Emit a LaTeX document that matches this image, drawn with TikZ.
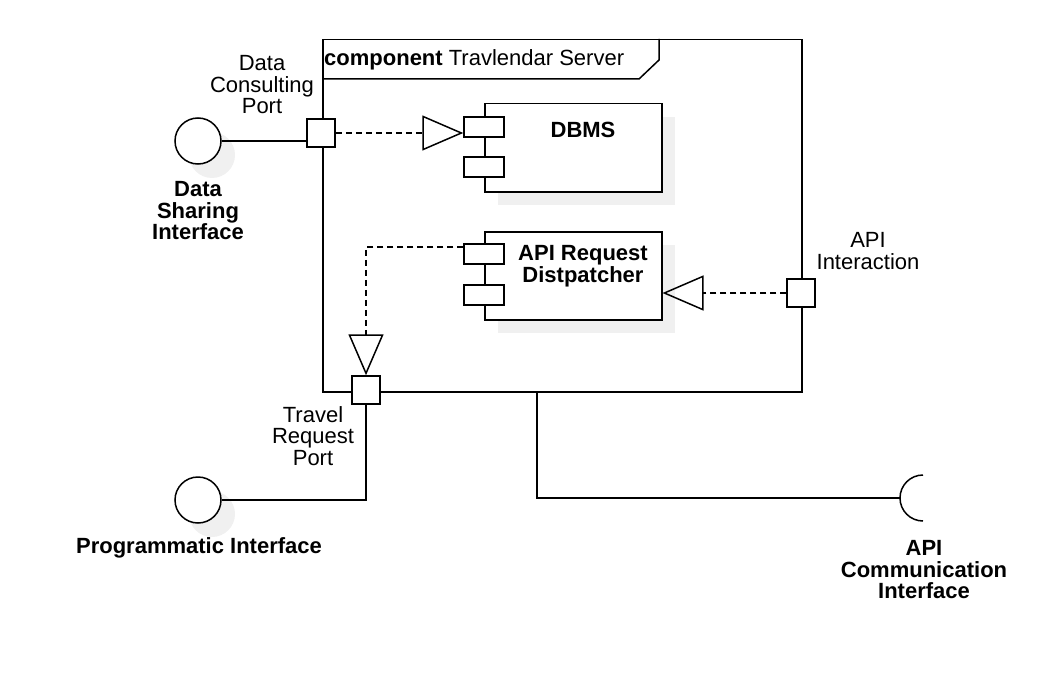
\documentclass[tikz,border=0pt]{standalone}
\usepackage{fontspec}
\setmainfont{Liberation Sans}
\usetikzlibrary{arrows.meta,calc}
\definecolor{shadowgrey}{HTML}{F0F0F0}
\tikzset{
  base/.style={line width=1.5pt},
  port/.style={base, draw, fill=white, minimum size=28pt, inner sep=0pt, rectangle},
  iface/.style={base, draw, fill=white, circle, minimum size=46pt, inner sep=0pt},
  comp/.style={base, draw, fill=white, minimum width=177pt, minimum height=88pt, inner sep=0pt, anchor=north west},
  icon/.style={base, draw, fill=white, minimum width=40pt, minimum height=20pt, inner sep=0pt},
  lbl/.style={align=center, inner sep=1pt, font=\fontsize{22}{21.5}\selectfont},
  blbl/.style={align=center, inner sep=1pt, font=\fontsize{22}{21.5}\selectfont\bfseries},
  dep/.style={base, dashed, dash pattern=on 6pt off 4pt, -{Triangle[open, length=41pt, width=35pt, line width=1.5pt]}},
}
\begin{document}
\begin{tikzpicture}[x=1pt,y=-1pt]
\useasboundingbox (0,0) rectangle (1064,674);
% shadows
\fill[shadowgrey] (212,155) circle (23);
\fill[shadowgrey] (212,514) circle (23);
\fill[shadowgrey] (498,117) rectangle (675,205);
\fill[shadowgrey] (498,245) rectangle (675,333);
% frame
\node[base, draw, minimum width=479pt, minimum height=352pt, anchor=north west, inner sep=0pt] (frame) at (322,39) {};
\draw[base] (322,79) -- (639,79) -- (659,60) -- (659,39);
\node[lbl, anchor=west] (title) at (323,60) {\textbf{component} Travlendar Server};
% components
\node[comp] (dbms) at (484,103) {};
\node[blbl] (dbmst) at (583,130) {DBMS};
\node[icon] (d1) at (484,127) {};
\node[icon] (d2) at (484,167) {};
\node[comp] (api) at (484,231) {};
\node[blbl] (apit) at (583,266) {API Request\\Distpatcher};
\node[icon] (a1) at (484,254) {};
\node[icon] (a2) at (484,295) {};
% interfaces and ports
\node[iface] (c1) at (198,141) {};
\node[iface] (c2) at (198,500) {};
\coordinate (socket) at (900,498);
\coordinate (fb) at (537,391);
\draw[base] (c1.east) -- (307,141);
\draw[base] (fb) |- (socket);
\draw[base] (923,521) arc[start angle=90, end angle=270, radius=23];
\node[port] (p1) at (321,133) {};
\node[port] (p2) at (366,390) {};
\node[port] (p3) at (801,293) {};
\draw[base] (p2.south) |- (c2.east);
% dependencies
\draw[dep] (p1.east) -- (p1.east -| d1.west);
\draw[dep] (p3.west) -- (p3.west -| api.east);
\draw[dep] ($(a1.west)+(0,-7)$) -| (p2.north);
% labels
\node[lbl] (l1) at (262,85) {Data\\Consulting\\Port};
\node[blbl] (l2) at (198,211) {Data\\Sharing\\Interface};
\node[lbl] (l3) at (868,251) {API\\Interaction};
\node[lbl] (l4) at (313,436) {Travel\\Request\\Port};
\node[blbl] (l5) at (199,548) {Programmatic Interface};
\node[blbl] (l6) at (924,570) {API\\Communication\\Interface};
\end{tikzpicture}
\end{document}
